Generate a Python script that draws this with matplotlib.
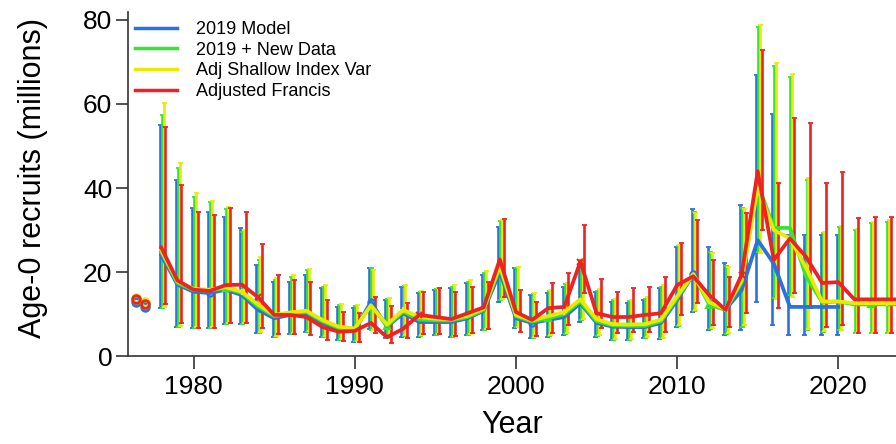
import numpy as np
import matplotlib
matplotlib.use("Agg")
import matplotlib.pyplot as plt

plt.rcParams['font.family'] = ['Liberation Sans', 'DejaVu Sans']

# ---- data (millions of age-0 recruits) ----
years = list(range(1978, 2025))
years_blue = list(range(1978, 2021))

labels = ['2019 Model', '2019 + New Data', 'Adj Shallow Index Var', 'Adjusted Francis']
colors = ['#2a72e0', '#33e633', '#eaea00', '#ee2222']
markers = ['o', '^', '+', 'x']

med_blue = [24.0, 17.0, 15.3, 15.0, 15.8, 14.5, 11.0, 9.0, 9.8, 10.2, 7.9, 6.4, 6.2, 12.9, 7.0,
            10.2, 8.1, 8.1, 8.1, 9.0, 10.8, 20.0, 9.0, 7.9, 8.6, 9.3, 12.6, 7.9, 7.0, 6.9, 6.9,
            7.9, 13.3, 19.5, 13.0, 11.0, 15.7, 27.6, 22.0, 11.7, 11.7, 11.7, 11.7]
med_green = [24.8, 17.4, 15.7, 15.6, 16.2, 15.0, 11.8, 9.5, 10.1, 10.5, 8.3, 6.7, 6.4, 12.2, 7.2,
             10.6, 8.7, 8.5, 8.5, 9.3, 11.0, 21.0, 9.5, 8.2, 9.0, 10.0, 13.0, 8.3, 7.3, 7.2, 7.2,
             8.3, 13.8, 19.5, 12.2, 11.0, 17.5, 41.0, 30.5, 30.5, 19.0, 12.8, 13.0, 12.3, 12.3,
             12.3, 12.3]
med_yellow = [25.2, 17.8, 16.0, 15.8, 16.4, 15.3, 12.3, 9.8, 10.4, 10.8, 8.6, 7.0, 6.6, 12.0, 7.5,
              11.0, 9.3, 8.9, 8.8, 9.6, 11.3, 21.5, 9.8, 8.5, 9.5, 10.5, 13.5, 8.8, 7.6, 7.5, 7.6,
              8.7, 14.2, 19.5, 12.8, 11.2, 18.0, 40.0, 30.0, 28.0, 21.0, 13.0, 13.0, 12.6, 12.6,
              12.6, 12.6]
med_red = [25.8, 18.0, 15.8, 15.5, 16.9, 17.0, 14.0, 9.8, 9.8, 9.3, 6.9, 5.8, 6.0, 7.9, 4.5,
           6.5, 9.8, 9.3, 8.8, 10.2, 11.6, 23.0, 10.5, 8.6, 11.4, 11.7, 22.5, 10.2, 9.3, 9.3, 9.8,
           10.2, 16.9, 19.0, 14.5, 11.0, 19.3, 44.0, 22.9, 28.0, 23.6, 17.4, 17.6, 13.5, 13.5,
           13.5, 13.5]

hi_blue = [55.0, 41.9, 35.2, 34.3, 33.2, 30.4, 21.7, 17.6, 17.6, 19.3, 16.2, 11.7, 11.4, 20.9, 13.3,
           16.4, 15.0, 15.7, 16.2, 17.4, 19.3, 30.8, 20.9, 14.5, 15.0, 16.4, 21.2, 15.2, 12.9, 12.6,
           13.3, 16.2, 26.0, 35.0, 26.0, 22.1, 36.0, 66.9, 57.6, 28.8, 28.8, 28.8, 28.8]
hi_green = [57.4, 44.7, 37.9, 36.7, 35.0, 29.5, 22.8, 18.0, 18.8, 20.5, 16.4, 12.1, 11.9, 20.9, 13.5,
            16.7, 15.3, 16.0, 16.5, 17.7, 19.8, 32.2, 21.0, 14.7, 15.5, 17.2, 22.9, 15.6, 13.3, 13.0,
            13.6, 16.5, 26.2, 34.3, 24.8, 21.4, 35.2, 78.3, 69.0, 66.5, 41.9, 29.3, 30.8, 30.0, 31.7,
            32.0, 32.0]
hi_yellow = [60.2, 45.9, 38.8, 37.0, 35.5, 30.0, 23.5, 18.5, 19.2, 20.8, 16.8, 12.5, 12.2, 20.5, 13.8,
             17.0, 15.6, 16.3, 16.8, 18.0, 20.2, 32.5, 21.3, 15.0, 15.8, 17.5, 23.2, 16.0, 13.6, 13.3,
             14.0, 16.8, 26.5, 34.0, 24.5, 21.2, 35.0, 78.8, 69.8, 67.1, 42.3, 29.6, 31.0, 30.3, 32.0,
             32.3, 32.3]
hi_red = [54.5, 40.7, 34.3, 33.6, 35.2, 34.3, 26.7, 19.3, 18.1, 17.6, 13.3, 10.5, 10.2, 14.0, 12.0,
          12.6, 15.2, 16.2, 15.2, 16.4, 17.6, 32.6, 15.7, 12.9, 17.4, 19.8, 31.2, 18.3, 15.2, 16.2,
          16.4, 18.8, 26.9, 32.4, 22.9, 18.8, 34.0, 72.9, 41.2, 56.6, 55.4, 41.2, 43.8, 32.9, 33.2,
          33.2, 33.2]

lo_blue = [11.4, 6.9, 6.6, 6.6, 7.6, 7.6, 5.5, 4.5, 5.2, 5.7, 4.5, 3.8, 3.4, 6.5, 4.3,
           4.5, 4.5, 5.0, 4.5, 5.0, 6.2, 12.9, 6.7, 4.3, 4.5, 5.0, 8.1, 4.5, 3.8, 3.8,
           4.3, 4.0, 6.9, 10.5, 6.2, 5.0, 6.2, 12.9, 7.4, 5.0, 5.0, 5.0, 5.0]
lo_green = [11.4, 7.0, 6.7, 6.7, 7.7, 7.7, 5.6, 4.6, 5.3, 5.8, 4.6, 3.9, 3.5, 6.3, 4.4,
            4.7, 4.7, 5.1, 4.6, 5.1, 6.3, 13.4, 6.9, 4.4, 4.7, 5.2, 8.5, 4.7, 3.9, 3.9,
            4.4, 4.2, 7.2, 10.8, 6.4, 5.2, 7.0, 24.8, 13.8, 14.5, 6.2, 5.7, 6.2, 5.5, 5.5,
            5.5, 5.5]
lo_yellow = [11.6, 7.2, 6.9, 6.9, 7.8, 7.8, 5.8, 4.8, 5.4, 5.9, 4.7, 4.0, 3.6, 6.3, 4.5,
             4.9, 4.9, 5.2, 4.8, 5.3, 6.5, 13.7, 7.0, 4.6, 4.9, 5.4, 8.8, 4.9, 4.1, 4.1,
             4.6, 4.4, 7.5, 11.0, 6.6, 5.4, 7.4, 24.5, 13.5, 14.0, 6.5, 5.9, 6.3, 5.6, 5.6,
             5.6, 5.6]
lo_red = [12.4, 7.8, 6.8, 6.8, 7.8, 7.9, 6.7, 5.2, 5.2, 5.0, 3.8, 3.5, 3.3, 5.5, 3.1,
          4.3, 5.2, 5.2, 4.8, 5.5, 6.5, 14.0, 5.7, 4.8, 5.5, 7.4, 15.0, 6.7, 5.5, 5.7,
          5.7, 5.7, 9.8, 12.6, 7.4, 6.9, 10.2, 30.0, 11.4, 15.0, 11.4, 6.9, 7.4, 5.5, 5.5,
          5.5, 5.5]

# virgin and initial recruitment
virg_init_x = [1976.4, 1977.0]
virg_init = [[12.8, 11.6], [13.6, 12.5], [13.9, 12.8], [13.7, 12.3]]

# years where the staggered points are drawn
point_years = [[1981, 1991, 2001, 2011], [1982, 1992, 2002, 2012, 2022],
               [1983, 1993, 2003, 2013, 2023], [1984, 1994, 2004, 2014, 2024]]

series = [
    (years_blue, med_blue, lo_blue, hi_blue),
    (years, med_green, lo_green, hi_green),
    (years, med_yellow, lo_yellow, hi_yellow),
    (years, med_red, lo_red, hi_red),
]
shifts = [-0.1, 0.03, 0.14, 0.25]

fig = plt.figure(figsize=(8.96, 4.44), dpi=100)
ax = fig.add_axes([0.143, 0.198, 0.857, 0.776])

for i, (yr, med, lo, hi) in enumerate(series):
    yr = np.array(yr)
    med = np.array(med)
    lo = np.array(lo)
    hi = np.array(hi)
    ax.errorbar(yr + shifts[i], med, yerr=[med - lo, hi - med], fmt='none',
                ecolor=colors[i], elinewidth=1.9, capsize=1.8, capthick=1.3, zorder=2 + i)

for i, (yr, med, lo, hi) in enumerate(series):
    ax.plot(yr, med, color=colors[i], lw=2.7, zorder=6 + i, label=labels[i])
    px = [y for y in point_years[i] if y in yr]
    py = [med[yr.index(y)] for y in px]
    ax.plot(px, py, ls='none', marker=markers[i], ms=4.5, mfc='none', mec=colors[i],
            mew=1.5, zorder=6 + i)
    ax.plot(virg_init_x, virg_init[i], ls='none', marker='o', ms=5.5, mfc='none',
            mec=colors[i], mew=2.0, zorder=6 + i)

ax.set_xlim(1975.94, 2023.58)
ax.set_ylim(0, 82)
ax.set_xticks([1980, 1990, 2000, 2010, 2020])
ax.set_yticks([0, 20, 40, 60, 80])

for s in ['top', 'right']:
    ax.spines[s].set_visible(False)
for s in ['left', 'bottom']:
    ax.spines[s].set_color('#333333')
    ax.spines[s].set_linewidth(1.2)
ax.tick_params(axis='y', length=8.5, width=1.2, color='#333333', labelsize=19, pad=3)
ax.tick_params(axis='x', length=9.5, width=1.2, color='#333333', labelsize=19, pad=4)

ax.set_xlabel('Year', fontsize=22, labelpad=8)
ax.set_ylabel('Age-0 recruits (millions)', fontsize=22)
ax.yaxis.set_label_coords(-0.104, 0.517)

leg = ax.legend(loc='upper left', bbox_to_anchor=(135 / 896, 1 - 21 / 444),
                bbox_transform=fig.transFigure, frameon=False, fontsize=13,
                handlelength=2.3, handletextpad=1.1, labelspacing=0.2, borderpad=0,
                borderaxespad=0)
for h in leg.get_lines():
    h.set_linewidth(2.5)

fig.savefig('out.png', dpi=100)
